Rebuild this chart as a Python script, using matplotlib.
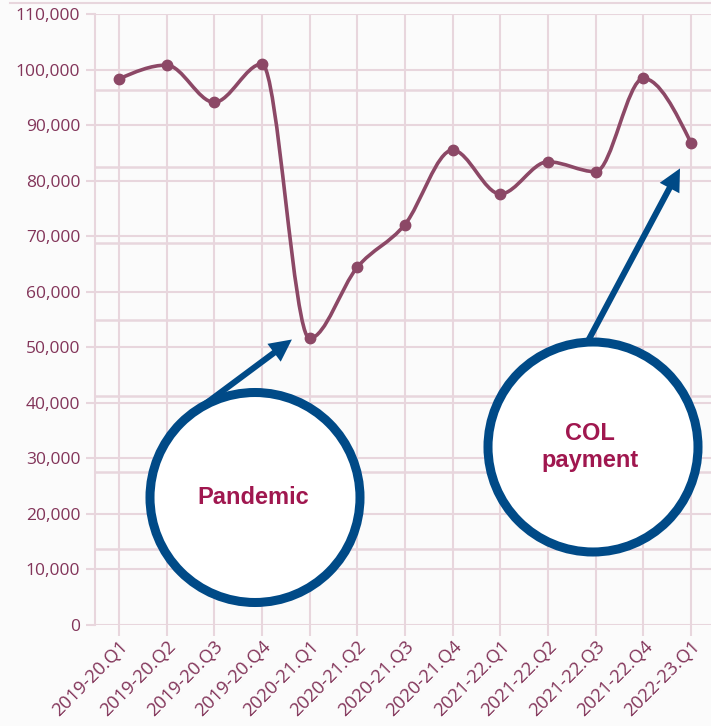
import numpy as np
import matplotlib.pyplot as plt
from matplotlib.path import Path
from matplotlib.patches import PathPatch, Circle
from matplotlib.lines import Line2D
from matplotlib.ticker import FuncFormatter

# ------------------------------------------------------------
# dados
# ------------------------------------------------------------

quarters = [
    '2019-20.Q1', '2019-20.Q2', '2019-20.Q3', '2019-20.Q4',
    '2020-21.Q1', '2020-21.Q2', '2020-21.Q3', '2020-21.Q4',
    '2021-22.Q1', '2021-22.Q2', '2021-22.Q3', '2021-22.Q4',
    '2022-23.Q1'
]

values = [
    98300, 100800, 94100, 101000,
    51600, 64400, 72100, 85500,
    77600, 83400, 81600, 98400,
    86800
]

y_ticks = list(range(0, 110001, 10000))

# ------------------------------------------------------------
# cores / estilo
# ------------------------------------------------------------

BG = '#fbfbfb'
GRID = '#e8d6dd'
LINE = '#8c4866'
TICK_TXT = '#823459'
BLUE = '#004a87'
NOTE = '#a0174f'

fig = plt.figure(figsize=(7.11, 7.26), dpi=100, facecolor=BG)

W, H = 711, 726
ax = fig.add_axes([95 / W, (H - 625) / H, (W - 95) / W, (625 - 14) / H])
ax.set_facecolor(BG)

x = np.arange(len(values), dtype=float)
y = np.array(values, dtype=float)

ax.set_xlim(-0.5, 12.42)
ax.set_ylim(0, 110000)

# grade principal
ax.set_xticks(x)
ax.set_xticklabels(quarters)
ax.set_yticks(y_ticks)
ax.yaxis.set_major_formatter(FuncFormatter(lambda v, p: f'{int(v):,}'))
ax.grid(True, color=GRID, linewidth=1.5, zorder=0)
ax.set_axisbelow(True)

# segunda grade (8 divisões)
for k in range(1, 8):
    ax.axhline(k * 110000 / 8, color=GRID, linewidth=1.8, zorder=0)

for side in ['top', 'right', 'bottom']:
    ax.spines[side].set_visible(False)
ax.spines['left'].set_color(GRID)
ax.spines['left'].set_linewidth(1.5)

ax.tick_params(axis='y', length=6.5, width=1.5, color=GRID,
               labelcolor=TICK_TXT, labelsize=12.5, pad=4)
ax.tick_params(axis='x', length=8, width=1.5, color=GRID,
               labelcolor=TICK_TXT, labelsize=13.2, pad=1)

for lbl in ax.get_yticklabels():
    lbl.set_fontfamily('Open Sans')
for lbl in ax.get_xticklabels():
    lbl.set_fontfamily('Open Sans')
    lbl.set_rotation(45)
    lbl.set_ha('right')
    lbl.set_va('top')
    lbl.set_rotation_mode('anchor')

# ------------------------------------------------------------
# curva monotona (tangentes tipo monotoneX) -> bezier
# ------------------------------------------------------------

n = len(x)
h = np.diff(x)
s = np.diff(y) / h
t = np.zeros(n)
for i in range(1, n - 1):
    s0, s1 = s[i - 1], s[i]
    p = (s0 * h[i] + s1 * h[i - 1]) / (h[i - 1] + h[i])
    t[i] = (np.sign(s0) + np.sign(s1)) * min(abs(s0), abs(s1), 0.5 * abs(p))
t[0] = (3 * s[0] - t[1]) / 2
t[-1] = (3 * s[-1] - t[-2]) / 2

verts = [(x[0], y[0])]
codes = [Path.MOVETO]
for i in range(n - 1):
    dx = h[i] / 3
    verts += [(x[i] + dx, y[i] + dx * t[i]),
              (x[i + 1] - dx, y[i + 1] - dx * t[i + 1]),
              (x[i + 1], y[i + 1])]
    codes += [Path.CURVE4] * 3

curve = PathPatch(Path(verts, codes), fill=False, edgecolor=LINE,
                  linewidth=2.6, capstyle='round', joinstyle='round', zorder=3)
ax.add_patch(curve)
ax.plot(x, y, 'o', color=LINE, markersize=7.5, zorder=4)

# linha fina no topo
fig.add_artist(Line2D([10 / W, 1], [(H - 3) / H] * 2, color=GRID, linewidth=1.5))

# ------------------------------------------------------------
# anotações
# ------------------------------------------------------------

arrow_style = 'simple,head_length=0.8,head_width=0.8,tail_width=0.22'

ax.annotate('', xy=(3.63, 51400), xycoords='data',
            xytext=(193, H - 413), textcoords='figure pixels',
            arrowprops=dict(arrowstyle=arrow_style, mutation_scale=20,
                            fc=BLUE, ec='none', shrinkA=0, shrinkB=0),
            zorder=5, annotation_clip=False)

ax.annotate('', xy=(11.77, 82200), xycoords='data',
            xytext=(588, H - 341), textcoords='figure pixels',
            arrowprops=dict(arrowstyle=arrow_style, mutation_scale=20,
                            fc=BLUE, ec='none', shrinkA=0, shrinkB=0),
            zorder=5, annotation_clip=False)

for cx, cy in [(255, 497.5), (593, 447)]:
    ax.add_patch(Circle((cx / 100, (H - cy) / 100), 1.05,
                        transform=fig.dpi_scale_trans, facecolor='white',
                        edgecolor=BLUE, linewidth=6.5, zorder=6, clip_on=False))

fig.text(253 / W, (H - 498) / H, 'Pandemic', ha='center', va='center',
         fontsize=17, fontweight='bold', color=NOTE,
         family='Liberation Sans', zorder=7)
fig.text(590 / W, (H - 434) / H, 'COL', ha='center', va='center',
         fontsize=17, fontweight='bold', color=NOTE,
         family='Liberation Sans', zorder=7)
fig.text(590 / W, (H - 461) / H, 'payment', ha='center', va='center',
         fontsize=17, fontweight='bold', color=NOTE,
         family='Liberation Sans', zorder=7)

fig.savefig('out.png', dpi=100, facecolor=BG)
